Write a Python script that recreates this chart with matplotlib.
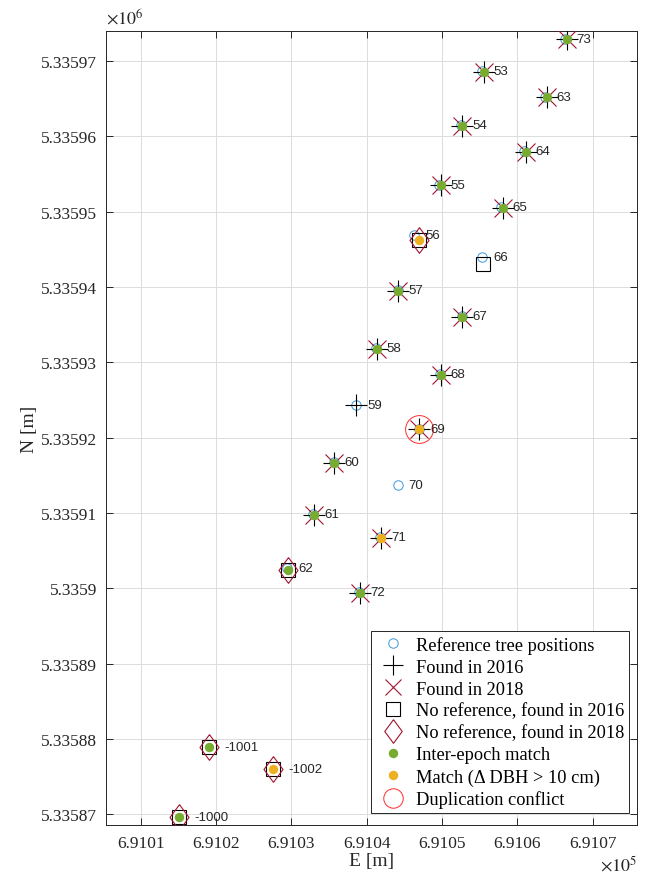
import matplotlib
matplotlib.use("Agg")
import matplotlib.pyplot as plt
from matplotlib.lines import Line2D
from matplotlib.ticker import FuncFormatter, MultipleLocator

plt.rcParams['mathtext.fontset'] = 'stix'

########## Data (UTM coordinates, m)

## Reference tree positions
ref_ids = [73, 53, 63, 54, 64, 55, 65, 56, 66, 57, 67, 58, 68, 59, 69, 60, 70, 61, 71, 62, 72]
ref_e = [691066.4, 691055.3, 691063.7, 691052.5, 691060.9, 691049.6, 691057.9, 691046.3, 691055.3,
         691044.1, 691052.6, 691041.2, 691049.7, 691038.6, 691047.0, 691035.6, 691044.1, 691032.9,
         691041.8, 691029.4, 691039.0]
ref_n = [5335972.9, 5335968.7, 5335965.3, 5335961.5, 5335958.1, 5335953.6, 5335950.6, 5335946.9,
         5335944.0, 5335939.6, 5335936.1, 5335931.9, 5335928.5, 5335924.3, 5335921.1, 5335916.8,
         5335913.7, 5335909.9, 5335906.8, 5335902.7, 5335899.5]

## Found in 2016 (matched to reference)
f16_e = [691066.6, 691055.6, 691063.9, 691052.7, 691061.1, 691049.8, 691058.1, 691044.2, 691052.7,
         691041.3, 691049.8, 691038.6, 691047.0, 691035.7, 691033.0, 691041.9, 691039.1]
f16_n = [5335972.9, 5335968.6, 5335965.2, 5335961.4, 5335958.0, 5335953.5, 5335950.5, 5335939.5,
         5335936.0, 5335931.8, 5335928.4, 5335924.3, 5335921.1, 5335916.7, 5335909.8, 5335906.7,
         5335899.4]

## Found in 2018 (matched to reference)
f18_e = [691066.6, 691055.6, 691063.9, 691052.7, 691061.1, 691049.8, 691058.1, 691044.2, 691052.7,
         691041.3, 691049.8, 691047.0, 691035.7, 691033.0, 691041.9, 691039.1]
f18_n = [5335972.9, 5335968.6, 5335965.2, 5335961.4, 5335958.0, 5335953.5, 5335950.5, 5335939.5,
         5335936.0, 5335931.8, 5335928.4, 5335921.1, 5335916.7, 5335909.8, 5335906.7, 5335899.4]

## No reference, found in 2016
nr16_ids = [56, 66, 62, -1001, -1002, -1000]
nr16_e = [691046.9, 691055.4, 691029.6, 691019.0, 691027.5, 691015.1]
nr16_n = [5335946.3, 5335943.1, 5335902.4, 5335879.0, 5335876.0, 5335869.7]

## No reference, found in 2018
nr18_e = [691046.9, 691029.6, 691019.0, 691027.5, 691015.1]
nr18_n = [5335946.3, 5335902.4, 5335879.0, 5335876.0, 5335869.7]

## Inter-epoch match
match_e = [691066.6, 691055.6, 691063.9, 691052.7, 691061.1, 691049.8, 691058.1, 691044.2, 691052.7,
           691041.3, 691049.8, 691035.7, 691033.0, 691029.6, 691039.1, 691019.0, 691015.1]
match_n = [5335972.9, 5335968.6, 5335965.2, 5335961.4, 5335958.0, 5335953.5, 5335950.5, 5335939.5,
           5335936.0, 5335931.8, 5335928.4, 5335916.7, 5335909.8, 5335902.4, 5335899.4, 5335879.0,
           5335869.7]

## Match with DBH difference > 10 cm
ddbh_e = [691046.9, 691047.0, 691041.9, 691027.5]
ddbh_n = [5335946.3, 5335921.1, 5335906.7, 5335876.0]

## Duplication conflict
dup_e = [691047.0]
dup_n = [5335921.1]

legend_labels = ['Reference tree positions', 'Found in 2016', 'Found in 2018',
                 'No reference, found in 2016', 'No reference, found in 2018',
                 'Inter-epoch match', 'Match (\u0394 DBH > 10 cm)', 'Duplication conflict']

x_lim = (691005.3, 691075.9)
y_lim = (5335868.6, 5335974.0)


########## Plot

fig = plt.figure(figsize=(6.49, 8.78), dpi=100)
ax = fig.add_axes([0.1626, 0.0592, 0.8189, 0.9044])

diamond = [(0, 1), (0.74, 0), (0, -1), (-0.74, 0), (0, 1)]

## (marker, colour, face, size, edge width, size in legend)
styles = [
    ('o', '#3E98DA', 'none', 6.8, 0.7, 6.8),
    ('+', 'black', 'none', 16.5, 0.8, 14),
    ('x', '#A2142F', 'none', 13, 0.8, 11),
    ('s', 'black', 'none', 10.5, 0.8, 10.5),
    (diamond, '#A2142F', 'none', 18.5, 0.8, 17),
    ('o', '#77AC30', '#77AC30', 6.8, 0, 6.8),
    ('o', '#EDB120', '#EDB120', 6.8, 0, 6.8),
    ('o', '#FF2A2A', 'none', 20, 0.7, 14),
]
series = [(ref_e, ref_n), (f16_e, f16_n), (f18_e, f18_n), (nr16_e, nr16_n), (nr18_e, nr18_n),
          (match_e, match_n), (ddbh_e, ddbh_n), (dup_e, dup_n)]

handles = []
for k, ((xs, ys), (mk, col, fc, ms, mew, lms)) in enumerate(zip(series, styles)):
    ax.plot(xs, ys, marker=mk, ls='none', color=col, mfc=fc, ms=ms, mew=mew, zorder=3 + k)
    handles.append(Line2D([], [], marker=mk, ls='none', color=col, mfc=fc, ms=lms, mew=mew))

## Tree id labels
for i, e, n in zip(ref_ids, ref_e, ref_n):
    ax.annotate(str(i), (e, n), xytext=(8, 0), textcoords='offset points', va='center', ha='left',
                fontsize=9.5, family='Liberation Sans', color='#262626', zorder=11)
for i, e, n in zip(nr16_ids, nr16_e, nr16_n):
    if i < 0:
        ax.annotate(str(i), (e, n), xytext=(11, 0), textcoords='offset points', va='center', ha='left',
                    fontsize=9.5, family='Liberation Sans', color='#262626', zorder=11)

ax.set_xlim(x_lim)
ax.set_ylim(y_lim)
ax.xaxis.set_major_locator(MultipleLocator(10))
ax.yaxis.set_major_locator(MultipleLocator(10))
ax.xaxis.set_major_formatter(FuncFormatter(lambda v, p: f"{v / 1e5:.6g}"))
ax.yaxis.set_major_formatter(FuncFormatter(lambda v, p: f"{v / 1e6:.6g}"))

ax.grid(True, color='#DCDCDC', lw=0.7)
ax.set_axisbelow(True)
ax.tick_params(direction='in', top=True, right=True, length=5, width=0.7, color='#262626',
               labelsize=12.5, labelcolor='#262626', pad=6)
ax.tick_params(axis='x', pad=7)
for lab in ax.get_xticklabels() + ax.get_yticklabels():
    lab.set_family('Liberation Serif')
for s in ax.spines.values():
    s.set_color('#262626')
    s.set_linewidth(0.7)

ax.set_xlabel('E [m]', family='Liberation Serif', fontsize=14, color='#262626', labelpad=1)
ax.set_ylabel('N [m]', family='Liberation Serif', fontsize=14, color='#262626', labelpad=2)

ax.text(1.0, -0.037, r'$\times10^{5}$', transform=ax.transAxes, ha='right', va='top', fontsize=13, color='#262626')
ax.text(0.0, 1.004, r'$\times10^{6}$', transform=ax.transAxes, ha='left', va='bottom', fontsize=13, color='#262626')

leg = ax.legend(handles, legend_labels, loc='lower right', bbox_to_anchor=(0.985, 0.0151), borderaxespad=0,
                fancybox=False, framealpha=1, edgecolor='#262626',
                prop={'family': 'Liberation Serif', 'size': 13.2},
                handlelength=1.95, handletextpad=0.26, labelspacing=0.27, borderpad=0.25)
leg.get_frame().set_linewidth(0.7)

fig.savefig('out.png', dpi=100)
